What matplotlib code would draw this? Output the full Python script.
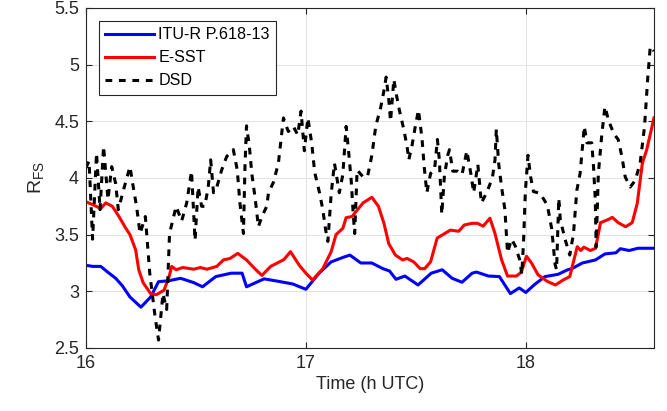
import numpy as np
import matplotlib
matplotlib.use("Agg")
import matplotlib.pyplot as plt

plt.rcParams['font.family'] = ['Liberation Sans', 'DejaVu Sans']
plt.rcParams['mathtext.fontset'] = 'custom'
plt.rcParams['mathtext.rm'] = 'Liberation Sans'
plt.rcParams['mathtext.it'] = 'Liberation Sans'

# ITU-R P.618-13 model
itu_t = [16.00, 16.03, 16.067, 16.105, 16.135, 16.165, 16.20, 16.25, 16.294, 16.33,
         16.378, 16.43, 16.49, 16.53, 16.59, 16.66, 16.71, 16.73, 16.81, 16.87,
         16.94, 17.00, 17.06, 17.115, 17.17, 17.20, 17.25, 17.30, 17.35, 17.38,
         17.41, 17.45, 17.51, 17.57, 17.62, 17.665, 17.71, 17.756, 17.776, 17.83,
         17.88, 17.93, 17.97, 18.00, 18.04, 18.087, 18.147, 18.19, 18.21, 18.257,
         18.317, 18.36, 18.41, 18.43, 18.47, 18.51, 18.583]
itu_r = [3.23, 3.22, 3.22, 3.16, 3.115, 3.05, 2.95, 2.86, 2.95, 3.085,
         3.094, 3.115, 3.077, 3.04, 3.13, 3.16, 3.16, 3.04, 3.11, 3.09,
         3.065, 3.018, 3.16, 3.26, 3.30, 3.32, 3.25, 3.25, 3.20, 3.18,
         3.106, 3.135, 3.056, 3.16, 3.19, 3.115, 3.08, 3.16, 3.17, 3.135,
         3.13, 2.98, 3.03, 2.99, 3.06, 3.13, 3.15, 3.19, 3.20, 3.25,
         3.277, 3.33, 3.34, 3.376, 3.36, 3.38, 3.38]

# E-SST model
esst_t = [16.00, 16.036, 16.067, 16.09, 16.12, 16.15, 16.18, 16.20, 16.226, 16.24,
          16.26, 16.294, 16.32, 16.355, 16.378, 16.39, 16.41, 16.44, 16.49, 16.52,
          16.55, 16.595, 16.625, 16.655, 16.69, 16.73, 16.77, 16.80, 16.84, 16.88,
          16.90, 16.93, 16.97, 17.00, 17.03, 17.077, 17.115, 17.137, 17.168, 17.183,
          17.21, 17.26, 17.30, 17.33, 17.355, 17.377, 17.407, 17.44, 17.46, 17.49,
          17.52, 17.54, 17.567, 17.597, 17.627, 17.657, 17.695, 17.72, 17.756, 17.78,
          17.806, 17.837, 17.86, 17.89, 17.917, 17.958, 17.98, 18.003, 18.026, 18.056,
          18.10, 18.135, 18.17, 18.20, 18.234, 18.25, 18.264, 18.294, 18.317, 18.34,
          18.378, 18.393, 18.42, 18.454, 18.484, 18.507, 18.53, 18.55, 18.583]
esst_r = [3.79, 3.76, 3.73, 3.78, 3.75, 3.66, 3.56, 3.50, 3.365, 3.19,
          3.076, 2.98, 2.97, 3.01, 3.13, 3.22, 3.19, 3.21, 3.195, 3.21,
          3.195, 3.22, 3.277, 3.29, 3.335, 3.277, 3.195, 3.14, 3.22, 3.26,
          3.28, 3.35, 3.23, 3.16, 3.10, 3.20, 3.35, 3.50, 3.556, 3.65,
          3.66, 3.78, 3.83, 3.75, 3.60, 3.42, 3.32, 3.277, 3.29, 3.26,
          3.20, 3.20, 3.26, 3.47, 3.505, 3.54, 3.53, 3.585, 3.60, 3.60,
          3.575, 3.645, 3.51, 3.277, 3.135, 3.135, 3.17, 3.31, 3.25, 3.145,
          3.085, 3.056, 3.10, 3.13, 3.394, 3.36, 3.39, 3.36, 3.38, 3.606,
          3.636, 3.653, 3.606, 3.57, 3.606, 3.777, 4.13, 4.25, 4.53]

# DSD measurements
dsd_t = [16.000, 16.014, 16.030, 16.048, 16.064, 16.080, 16.100, 16.117, 16.135, 16.147,
         16.170, 16.200, 16.215, 16.230, 16.246, 16.270, 16.290, 16.314, 16.330, 16.350,
         16.367, 16.380, 16.410, 16.435, 16.458, 16.480, 16.496, 16.510, 16.526, 16.540,
         16.556, 16.567, 16.580, 16.595, 16.617, 16.640, 16.670, 16.688, 16.700, 16.716,
         16.723, 16.730, 16.743, 16.754, 16.770, 16.784, 16.800, 16.822, 16.830, 16.852,
         16.875, 16.898, 16.920, 16.943, 16.963, 16.978, 16.993, 17.009, 17.027, 17.040,
         17.062, 17.077, 17.090, 17.100, 17.115, 17.130, 17.140, 17.152, 17.168, 17.183,
         17.193, 17.206, 17.216, 17.222, 17.233, 17.260, 17.280, 17.300, 17.318, 17.340,
         17.354, 17.365, 17.377, 17.385, 17.400, 17.410, 17.425, 17.445, 17.460, 17.468,
         17.483, 17.498, 17.512, 17.528, 17.538, 17.550, 17.567, 17.585, 17.598, 17.607,
         17.618, 17.630, 17.645, 17.653, 17.668, 17.690, 17.710, 17.732, 17.750, 17.763,
         17.782, 17.798, 17.822, 17.848, 17.860, 17.866, 17.877, 17.890, 17.905, 17.917,
         17.935, 17.952, 17.972, 17.982, 17.990, 17.998, 18.010, 18.022, 18.035, 18.065,
         18.098, 18.118, 18.133, 18.140, 18.150, 18.157, 18.180, 18.200, 18.217, 18.232,
         18.247, 18.266, 18.278, 18.300, 18.308, 18.316, 18.320, 18.330, 18.346, 18.360,
         18.376, 18.400, 18.420, 18.437, 18.452, 18.475, 18.498, 18.520, 18.540, 18.554,
         18.566, 18.583]
dsd_r = [4.09, 4.15, 3.46, 4.22, 3.72, 4.28, 3.81, 4.10, 3.95, 3.72,
         3.89, 4.10, 3.92, 3.75, 3.51, 3.66, 3.16, 2.78, 2.57, 2.98,
         2.84, 3.51, 3.75, 3.62, 3.78, 4.06, 3.45, 3.92, 3.75, 3.75,
         3.92, 4.16, 3.87, 3.92, 4.07, 4.19, 4.25, 4.07, 3.78, 3.51,
         4.10, 4.46, 4.28, 4.04, 3.81, 3.57, 3.66, 3.75, 3.87, 3.96,
         4.13, 4.53, 4.41, 4.455, 4.38, 4.59, 4.24, 4.53, 4.30, 4.05,
         3.87, 3.72, 3.54, 3.44, 3.86, 4.13, 4.01, 3.87, 4.03, 4.455,
         4.26, 3.98, 3.66, 3.51, 4.07, 4.01, 4.01, 4.20, 4.46, 4.62,
         4.76, 4.89, 4.69, 4.50, 4.87, 4.75, 4.60, 4.43, 4.28, 4.16,
         4.29, 4.46, 4.60, 4.35, 4.10, 3.87, 4.04, 4.07, 4.34, 4.16,
         3.68, 4.02, 4.20, 4.25, 4.06, 4.06, 4.03, 4.24, 4.04, 3.87,
         4.12, 3.78, 3.87, 4.00, 4.16, 4.43, 4.12, 3.92, 3.72, 3.34,
         3.46, 3.40, 3.28, 3.15, 3.45, 3.88, 4.20, 4.01, 3.88, 3.865,
         3.76, 3.55, 3.24, 3.19, 3.82, 3.63, 3.45, 3.32, 3.51, 3.89,
         4.04, 4.455, 4.31, 4.31, 4.10, 3.81, 3.39, 4.04, 4.39, 4.63,
         4.51, 4.39, 4.34, 4.19, 4.01, 3.92, 3.98, 4.13, 4.455, 4.865,
         5.16, 5.12]

fig = plt.figure(figsize=(6.67, 4.11), dpi=100)
ax = fig.add_axes([0.1289, 0.1533, 0.8516, 0.8273])

ax.plot(itu_t, itu_r, color='#0000ff', lw=2.2, label='ITU-R P.618-13')
ax.plot(esst_t, esst_r, color='#ff0000', lw=2.2, label='E-SST')
ax.plot(dsd_t, dsd_r, color='black', lw=2.2, ls='--', dashes=(2.2, 2.2), label='DSD')

ax.set_xlim(16, 18.583)
ax.set_ylim(2.5, 5.5)
ax.set_xticks([16, 17, 18])
ax.set_yticks([2.5, 3, 3.5, 4, 4.5, 5, 5.5])
ax.set_yticklabels(['2.5', '3', '3.5', '4', '4.5', '5', '5.5'])
ax.grid(True, color='#e3e3e3', lw=0.8)
ax.set_axisbelow(True)

dark = '#262626'
for s in ax.spines.values():
    s.set_color(dark)
    s.set_linewidth(0.8)
ax.tick_params(direction='in', top=True, right=True, length=4, width=0.8,
               colors=dark, labelsize=13, pad=5)

ax.set_xlabel('Time (h UTC)', fontsize=13, color=dark, labelpad=3)
ax.set_ylabel(r'R$_{\mathrm{FS}}$', fontsize=14, color=dark, labelpad=6)

leg = ax.legend(loc='upper left', fontsize=11.6, fancybox=False, framealpha=1,
                edgecolor=dark, handlelength=3.0, borderaxespad=0.8,
                labelspacing=0.5, borderpad=0.4, handletextpad=0.3)
leg.get_frame().set_linewidth(0.8)

plt.savefig('out.png', dpi=100)
